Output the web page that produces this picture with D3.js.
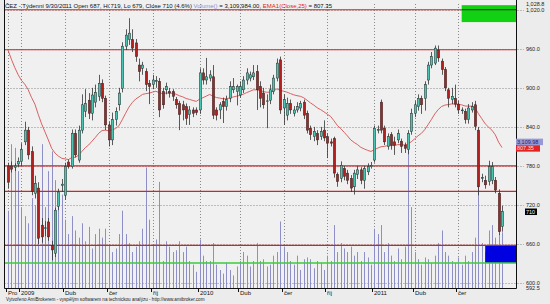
<!doctype html>
<html>
<head>
<meta charset="utf-8">
<script src="https://d3js.org/d3.v7.min.js"></script>
<style>
  body { margin: 0; background: #ececec; }
  svg { display: block; font-family: "Liberation Sans", Arial, sans-serif; }
</style>
</head>
<body>
<div id="container"></div>
<script>
// weekly OHLC, ČEZ, Dec 2008 - Sep 2011
var opens = [780,780,778,783,787,817,835,802,738,746, 689,684,694,658,646,718,750,735,786,779,
  830,789,835,864,881,861,878,887,907,884, 843,820,851,874,899,964,974,974,969,935,
  930,925,907,905,910,910,894,897,894,894, 882,876,874,871,859,866,866,866,923,912,
  915,917,866,866,879,871,884,897,894,889, 897,912,915,917,925,902,892,879,881,894,
  915,943,869,858,876,861,866,869,878,861, 838,825,830,825,835,825,817,822,767,761,
  776,769,761,748,767,774,758,771,779,789, 835,878,838,810,828,817,820,818,812,805,
  833,861,871,884,884,912,935,938,958,941, 928,897,882,884,875,866,864,851,866,874,
  835,761,758,756,758,758,738,687];
var highs = [785,787,784,793,815,848,840,810,765,755, 700,695,700,665,716,745,760,785,790,836,
  836,842,890,898,892,900,905,920,913,888, 848,862,870,900,970,990,1007,990,975,945,
  940,930,912,920,918,915,900,908,900,898, 886,880,880,876,872,870,870,930,930,946,
  927,935,870,878,885,888,910,915,905,910, 918,930,925,935,935,910,900,890,905,920,
  945,948,890,885,882,872,878,880,882,865, 842,840,835,840,850,830,822,825,770,787,
  780,774,766,774,780,778,780,784,786,842, 842,882,842,830,832,825,836,822,816,835,
  868,880,890,888,910,940,955,965,965,945, 932,900,900,905,880,870,868,875,878,880,
  840,768,765,788,786,763,744,719];
var lows = [745,770,772,778,780,812,790,735,730,660, 662,672,665,635,640,712,740,728,776,776,
  793,785,830,855,852,850,870,880,878,835, 810,812,842,865,893,958,966,955,940,910,
  920,895,875,898,900,855,868,890,885,880, 868,835,850,843,843,855,858,860,905,905,
  910,852,850,852,846,865,878,892,873,885, 892,905,910,912,866,870,868,838,875,890,
  910,860,843,850,860,856,862,864,852,830, 820,818,812,820,818,792,810,762,748,755,
  758,752,740,736,760,752,745,766,776,785, 830,830,812,805,805,797,815,800,800,798,
  828,855,865,860,865,905,930,935,940,920, 895,870,875,870,860,860,845,845,862,835,
  735,755,745,750,752,738,674,679];
var closes = [755,775,780,787,805,835,797,741,753,669, 671,685,671,651,712,740,752,779,779,830,
  797,835,874,876,861,889,893,907,884,843, 820,851,864,892,964,981,984,961,948,925,
  935,905,902,912,911,866,874,902,892,887, 874,859,866,853,866,861,862,923,912,917,
  920,858,858,874,871,882,902,902,902,902, 912,923,920,923,897,884,874,880,897,915,
  938,866,882,876,866,866,871,876,858,835, 828,833,820,833,823,815,815,769,756,781,
  764,758,746,769,774,758,776,779,781,838, 836,835,817,825,812,812,830,810,807,830,
  861,874,884,874,905,935,948,961,946,928, 900,884,887,875,866,866,851,869,871,841,
  748,762,751,779,779,743,679,710];
// volume in millions of shares
var volumes = [4.3,8.0,7.8,6.5,4.5,4.0,3.6,5.0,4.6,5.5, 8.0,4.5,6.5,7.6,6.0,4.8,5.2,3.8,3.0,4.0,
  3.2,2.8,3.6,2.6,3.4,2.2,3.0,3.3,2.8,3.3, 2.4,2.0,2.2,3.0,4.3,3.0,2.5,2.0,2.3,2.6,
  3.3,6.7,3.8,2.4,2.7,5.9,1.5,2.6,2.3,2.0, 2.1,2.6,2.0,2.3,1.5,1.3,0.9,2.7,1.8,1.5,
  1.5,2.5,1.3,1.0,0.8,1.4,1.0,0.7,1.2,1.5, 2.0,1.8,1.2,1.5,2.5,1.5,1.6,1.2,1.3,1.8,
  2.0,3.7,2.3,2.0,1.5,1.3,1.8,1.0,1.6,1.7, 1.6,1.1,1.5,1.4,1.0,1.8,1.5,3.5,2.0,2.5,
  2.2,2.0,2.3,1.8,2.0,1.5,2.0,1.7,1.3,3.3, 3.0,3.5,2.0,2.5,1.8,1.5,2.2,1.6,2.3,7.8,
  4.5,2.0,1.6,1.3,1.7,1.6,1.4,1.8,2.5,3.2, 2.0,1.8,1.5,1.4,1.7,1.3,1.8,1.5,2.0,2.8,
  7.2,2.5,2.0,3.2,3.5,2.8,3.0,3.1];
var lastVolume = 3109984;
var emaPeriod = 25;
var emaSeed = 975;          // EMA value before the first visible bar
var redLevels = [1020, 958.5, 780, 741, 658];
var greenLevel = 631;
var greenZone = [1001, 1027], greenZoneFrom = 135;
var blueZone = [631, 658], blueZoneFrom = 142;
var tickIdx = [0, 4, 17, 30, 43, 57, 69, 82, 95, 109, 121, 134];
var tickLabels = ["Pro", "2009", "Dub", "čer", "říj", "2010", "Dub", "čer", "říj", "2011", "Dub", "čer"];
var priceTicks = [600, 660, 720, 780, 840, 900, 960, 1020];
var priceMin = 592.5, priceMax = 1028.8;

var W = 550, H = 304;
var pL = 4.5, pR = 516, pT = 4, pB = 288;

var svg = d3.select("#container").append("svg").attr("width", W).attr("height", H);
svg.append("rect").attr("width", W).attr("height", H).attr("fill", "#ececec");
svg.append("rect").attr("x", pL).attr("y", 0).attr("width", pR - pL).attr("height", pB)
  .attr("fill", "#f0f0f0");

var n = closes.length;
var x = d3.scaleLinear().domain([0, n - 1]).range([8, 502]);
var y = d3.scaleLinear().domain([priceMin, priceMax]).range([pB, pT]);
var yv = d3.scaleLinear().domain([0, 15.8]).range([pB, pT]);

// dotted grid
svg.selectAll(".gh").data(priceTicks).enter().append("line")
  .attr("x1", pL).attr("x2", 524).attr("y1", function(d) { return Math.round(y(d)) + 0.5; })
  .attr("y2", function(d) { return Math.round(y(d)) + 0.5; })
  .style("stroke", "#8a8a8a").style("stroke-dasharray", "1,2");
svg.selectAll(".gv").data(tickIdx).enter().append("line")
  .attr("x1", function(d) { return Math.round(x(d)) + 0.5; }).attr("x2", function(d) { return Math.round(x(d)) + 0.5; })
  .attr("y1", pT).attr("y2", pB)
  .style("stroke", "#8a8a8a").style("stroke-dasharray", "1,2");

// volume histogram
svg.selectAll(".vol").data(volumes).enter().append("line")
  .attr("x1", function(d, i) { return Math.round(x(i)) + 0.5; })
  .attr("x2", function(d, i) { return Math.round(x(i)) + 0.5; })
  .attr("y1", pB).attr("y2", function(d) { return yv(d); })
  .style("stroke", "#8f8fc8").style("stroke-width", 1);

// zones
function zone(z, from, col) {
  svg.append("rect").attr("x", x(from)).attr("width", pR - x(from))
    .attr("y", y(z[1])).attr("height", y(z[0]) - y(z[1])).attr("fill", col);
}
zone(greenZone, greenZoneFrom, "#12d012");
zone(blueZone, blueZoneFrom, "#0000e0");
svg.append("line").attr("x1", x(greenZoneFrom)).attr("x2", pR)
  .attr("y1", y(1020)).attr("y2", y(1020)).style("stroke", "#222");

// levels
svg.selectAll(".lvl").data(redLevels).enter().append("line")
  .attr("x1", pL).attr("x2", function(d, i) { return i == 0 ? x(greenZoneFrom) : pR; })
  .attr("y1", function(d) { return y(d); }).attr("y2", function(d) { return y(d); })
  .style("stroke", "#c8282a").style("stroke-width", 1.2);
svg.append("line").attr("x1", pL).attr("x2", pR)
  .attr("y1", y(greenLevel)).attr("y2", y(greenLevel))
  .style("stroke", "#3ccc3c").style("stroke-width", 1.5);

// EMA(Close,25)
var k = 2 / (emaPeriod + 1), e = emaSeed;
var ema = closes.map(function(c) { e = e + k * (c - e); return e; });
svg.append("path").datum(ema)
  .attr("d", d3.line().x(function(d, i) { return x(i); }).y(function(d) { return y(d); }))
  .attr("fill", "none").style("stroke", "#d65050").style("stroke-width", 0.9);

// candles
var bars = d3.range(n);
svg.selectAll(".wick").data(bars).enter().append("line")
  .attr("x1", function(i) { return Math.round(x(i)) + 0.5; }).attr("x2", function(i) { return Math.round(x(i)) + 0.5; })
  .attr("y1", function(i) { return y(highs[i]); }).attr("y2", function(i) { return y(lows[i]); })
  .style("stroke", "#333").style("stroke-width", 0.8);
svg.selectAll(".body").data(bars).enter().append("rect")
  .attr("x", function(i) { return Math.round(x(i)) - 0.7; })
  .attr("width", 2.4)
  .attr("y", function(i) { return y(Math.max(opens[i], closes[i])); })
  .attr("height", function(i) { return Math.max(0.8, Math.abs(y(opens[i]) - y(closes[i]))); })
  .attr("fill", function(i) { return closes[i] >= opens[i] ? "#4cc4b2" : "#b0201e"; })
  .style("stroke", "#2a2a2a").style("stroke-width", 0.5);

// frame
svg.append("path").attr("d", "M" + pL + ",0V" + (pB + 0.5) + "H" + (pR + 0.5) + "V0")
  .attr("fill", "none").style("stroke", "#111");

// x axis
var xt = svg.selectAll(".xt").data(tickIdx).enter().append("g")
  .attr("transform", function(d) { return "translate(" + Math.round(x(d) - 2) + "," + pB + ")"; });
xt.append("line").attr("x1", 0.5).attr("x2", 0.5).attr("y1", 1).attr("y2", 4).style("stroke", "#111");
xt.append("text").attr("x", 2).attr("y", 6.5).style("font-size", "6px").attr("fill", "#111")
  .text(function(d, i) { return tickLabels[i]; });

// price axis
var fmt = d3.format(",.1f");
svg.selectAll(".yl").data(priceTicks.concat([priceMax, priceMin])).enter().append("text")
  .attr("x", 526).attr("y", function(d) { return y(d) + 2; })
  .style("font-size", "5.5px").attr("fill", "#222").text(function(d) { return fmt(d); });

// value tags
var emaLast = ema[n - 1];
function tag(ty, txt, bg, fg, x0, w) {
  svg.append("rect").attr("x", x0).attr("y", ty - 3).attr("width", w).attr("height", 6.5).attr("fill", bg);
  svg.append("text").attr("x", x0 + 1).attr("y", ty + 2).style("font-size", "5.5px").attr("fill", fg).text(txt);
}
var emaY = y(807.35);
tag(emaY, "807.35", "#e02424", "#ffe0e0", 516, 24);
tag(emaY - 6.5, d3.format(",.2f")(lastVolume / 1000).slice(0, 8), "#9898d4", "#202070", 516, 27);
tag(y(closes[n - 1]), String(closes[n - 1]), "#000", "#fff", 525, 12);

// title
var chg = (closes[n - 1] - closes[n - 2]) / closes[n - 2] * 100;
var title = svg.append("text").attr("x", 5).attr("y", 7.5).style("font-size", "6px").attr("fill", "#111");
title.append("tspan").text("ČEZ - Týdenní 9/30/2011 Open " + opens[n - 1] + ", Hi " + highs[n - 1] +
  ", Lo " + lows[n - 1] + ", Close " + closes[n - 1] + " (" + chg.toFixed(1) + "%) ");
title.append("tspan").attr("fill", "#8c8cd0").text("Volume()");
title.append("tspan").text(" = " + d3.format(",.2f")(lastVolume) + ", ");
title.append("tspan").attr("fill", "#e02020").text("EMA1(Close,25)");
title.append("tspan").text(" = 807.35");

svg.append("text").attr("x", 6).attr("y", 300.5).style("font-size", "4.6px").attr("fill", "#222")
  .text("Vytvořeno AmiBrokerem - vyspělým softwarem na technickou analýzu - http://www.amibroker.com");
</script>
</body>
</html>
